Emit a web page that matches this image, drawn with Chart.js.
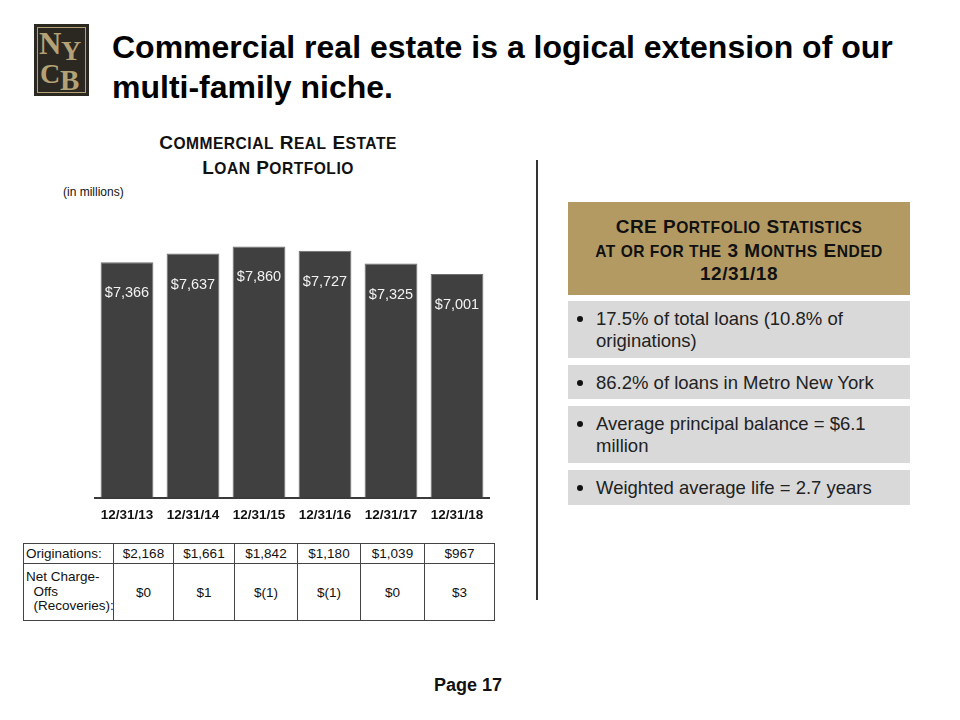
<!DOCTYPE html>
<html>
<head>
<meta charset="utf-8">
<script src="https://cdn.jsdelivr.net/npm/chart.js@4.4.1/dist/chart.umd.min.js"></script>
<style>
  body { margin: 0; background: #fff; font-family: "Liberation Sans", Arial, sans-serif; }
  #page { position: relative; width: 960px; height: 720px; overflow: hidden; }
  .abs { position: absolute; }
  #logo { left: 34px; top: 24px; width: 55px; height: 72px; background: #2b2822; }
  #logo .frame { position: absolute; left: 3px; top: 3px; right: 3px; bottom: 3px; border: 1px solid #b4a276; }
  #logo span { position: absolute; font-family: "Liberation Serif", "DejaVu Serif", serif; color: #b4a276; font-weight: bold; line-height: 1; }
  #title { left: 112px; top: 27px; font-size: 32px; font-weight: bold; line-height: 40px; color: #000; }
  .sc { font-weight: bold; text-align: center; color: #111; letter-spacing: 0.5px; }
  .sc small { font-size: 0.82em; }
  #chartTitle { left: 100px; width: 356px; top: 131px; font-size: 19px; line-height: 24px; }
  #units { left: 63px; top: 185px; font-size: 12px; color: #111; }
  #chartBox { left: 94px; top: 242px; width: 396px; height: 282px; }
  #sep { left: 536px; top: 160px; width: 2px; height: 440px; background: #333; }
  table { position: absolute; left: 23px; top: 543px; width: 471px; table-layout: fixed; border-collapse: collapse; font-size: 13.5px; color: #111; }
  td { border: 1px solid #444; text-align: center; padding: 0; height: 19px; overflow: hidden; white-space: nowrap; }
  td.h { text-align: left; padding-left: 2px; }
  #head { left: 568px; top: 202px; width: 342px; height: 93px; background: #b39a63; font-size: 19px; line-height: 22.5px; padding-top: 14px; box-sizing: border-box; }
  .box { position: absolute; left: 568px; width: 342px; background: #d9d9d9; font-size: 18.5px; line-height: 22px; color: #222; box-sizing: border-box; padding: 7px 8px 0 28px; }
  .box:before { content: ""; position: absolute; left: 9px; top: 15px; width: 6px; height: 6px; border-radius: 50%; background: #111; }
  #pg { left: 434px; top: 675px; font-size: 18px; font-weight: bold; color: #111; }
</style>
</head>
<body>
<div id="page">
  <div id="logo" class="abs">
    <div class="frame"></div>
    <span style="left:5px;top:4px;font-size:31px;">N</span>
    <span style="left:27px;top:13px;font-size:28px;">Y</span>
    <span style="left:6px;top:36px;font-size:28px;">C</span>
    <span style="left:26px;top:42px;font-size:29px;">B</span>
  </div>
  <div id="title" class="abs">Commercial real estate is a logical extension of our<br>multi-family niche.</div>
  <div id="chartTitle" class="abs sc">C<small>OMMERCIAL</small> R<small>EAL</small> E<small>STATE</small><br>L<small>OAN</small> P<small>ORTFOLIO</small></div>
  <div id="units" class="abs">(in millions)</div>
  <div id="chartBox" class="abs"><canvas id="chart"></canvas></div>
  <table id="tbl"></table>
  <div id="sep" class="abs"></div>
  <div id="head" class="abs sc">CRE P<small>ORTFOLIO</small> S<small>TATISTICS</small><br><small>AT OR FOR THE</small> 3 M<small>ONTHS</small> E<small>NDED</small><br>12/31/18</div>
  <div class="box" style="top:301px;height:57px;">17.5% of total loans (10.8% of originations)</div>
  <div class="box" style="top:365px;height:34px;">86.2% of loans in Metro New York</div>
  <div class="box" style="top:406px;height:57px;">Average principal balance = $6.1 million</div>
  <div class="box" style="top:470px;height:35px;">Weighted average life = 2.7 years</div>
  <div id="pg" class="abs">Page 17</div>
</div>
<script>
"use strict";

const periods = ['12/31/13', '12/31/14', '12/31/15', '12/31/16', '12/31/17', '12/31/18'];
const portfolio = [7366, 7637, 7860, 7727, 7325, 7001];
const originations = ['$2,168', '$1,661', '$1,842', '$1,180', '$1,039', '$967'];
const chargeOffs = ['$0', '$1', '$(1)', '$(1)', '$0', '$3'];
const colWidths = [90, 60, 61, 63, 63, 64, 70];

// table under the chart
const tbl = document.getElementById('tbl');
let rows = [];
rows.push('<colgroup>' + colWidths.map(w => `<col style="width:${w}px">`).join('') + '</colgroup>');
rows.push('<tr><td class="h">Originations:</td>' + originations.map(v => `<td>${v}</td>`).join('') + '</tr>');
rows.push('<tr><td class="h" style="line-height:14.5px;height:56px;">Net Charge-<br>&nbsp;&nbsp;Offs<br>&nbsp;&nbsp;(Recoveries):</td>' + chargeOffs.map(v => `<td>${v}</td>`).join('') + '</tr>');
tbl.innerHTML = rows.join('\n');

const barLabels = {
  id: 'barLabels',
  afterDatasetsDraw(chart) {
    const ctx = chart.ctx;
    const meta = chart.getDatasetMeta(0);
    ctx.save();
    ctx.fillStyle = '#f2f2f2';
    ctx.font = '14.5px "Liberation Sans", Arial, sans-serif';
    ctx.textAlign = 'center';
    ctx.textBaseline = 'middle';
    meta.data.forEach((bar, i) => {
      ctx.fillText('$' + portfolio[i].toLocaleString('en-US'), bar.x, bar.y + 31);
    });
    ctx.restore();
  }
};

new Chart(document.getElementById('chart').getContext('2d'), {
  type: 'bar',
  data: {
    labels: periods,
    datasets: [{
      data: portfolio,
      backgroundColor: '#404040',
      borderColor: '#6e6e6e',
      borderWidth: 1,
      categoryPercentage: 0.8,
      barPercentage: 1.0
    }]
  },
  options: {
    responsive: true,
    maintainAspectRatio: false,
    animation: false,
    layout: { padding: 0 },
    plugins: { legend: { display: false }, tooltip: { enabled: false } },
    scales: {
      x: {
        grid: { display: false },
        border: { color: '#3a3a3a', width: 2 },
        ticks: { color: '#111', font: { size: 13.5, weight: 'bold', family: '"Liberation Sans", Arial, sans-serif' }, padding: 1, maxRotation: 0 }
      },
      y: { display: false, min: 0, max: 8000 }
    }
  },
  plugins: [barLabels]
});
</script>
</body>
</html>
